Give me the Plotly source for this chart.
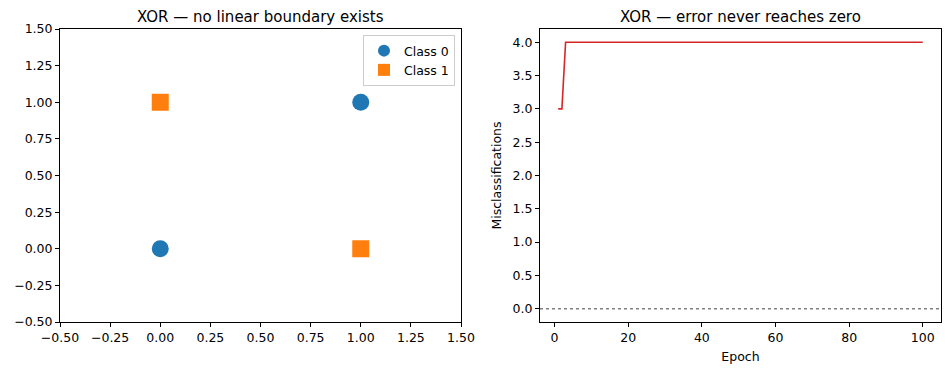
import plotly.graph_objects as go

# Data
class0_x = [0, 1]
class0_y = [0, 1]
class1_x = [0, 1]
class1_y = [1, 0]
epochs = list(range(1, 101))
errors = [3, 3] + [4] * 98
left_ticks = [-0.5, -0.25, 0.0, 0.25, 0.5, 0.75, 1.0, 1.25, 1.5]
left_ticklabels = ["−0.50", "−0.25", "0.00", "0.25", "0.50", "0.75", "1.00", "1.25", "1.50"]
right_yticks = [0.0, 0.5, 1.0, 1.5, 2.0, 2.5, 3.0, 3.5, 4.0]
right_yticklabels = ["0.0", "0.5", "1.0", "1.5", "2.0", "2.5", "3.0", "3.5", "4.0"]
right_xticks = [0, 20, 40, 60, 80, 100]

FONT = "DejaVu Sans"
fig = go.Figure()

fig.add_trace(go.Scatter(x=class0_x, y=class0_y, mode="markers", name="Class 0",
                         marker=dict(symbol="circle", size=17, color="#1f77b4", line=dict(width=0)),
                         xaxis="x", yaxis="y"))
fig.add_trace(go.Scatter(x=class1_x, y=class1_y, mode="markers", name="Class 1",
                         marker=dict(symbol="square", size=17, color="#ff7f0e", line=dict(width=0)),
                         xaxis="x", yaxis="y"))
fig.add_trace(go.Scatter(x=epochs, y=errors, mode="lines", showlegend=False,
                         line=dict(color="#d62728", width=1.6), xaxis="x2", yaxis="y2"))
fig.add_trace(go.Scatter(x=[-3.95, 104.95], y=[0, 0], mode="lines", showlegend=False,
                         line=dict(color="gray", width=1.4, dash="dot"), xaxis="x2", yaxis="y2"))

ax_common = dict(showline=True, linecolor="black", linewidth=1, mirror=True, showgrid=False,
                 zeroline=False, ticks="outside", ticklen=4, tickcolor="black", tickwidth=1,
                 automargin=False,
                 tickfont=dict(family=FONT, size=12.5, color="black"))

ydom = [1 - 322 / 374, 1 - 29 / 374]
fig.update_layout(
    width=950, height=374,
    margin=dict(l=0, r=0, t=0, b=0, autoexpand=False),
    paper_bgcolor="white", plot_bgcolor="white",
    font=dict(family=FONT, size=12.5, color="black"),
    xaxis=dict(domain=[60 / 950, 461 / 950], range=[-0.5, 1.5], tickvals=left_ticks,
               ticktext=left_ticklabels, anchor="y", **ax_common),
    yaxis=dict(domain=ydom, range=[-0.5, 1.5], tickvals=left_ticks,
               ticktext=left_ticklabels, anchor="x", **ax_common),
    xaxis2=dict(domain=[540 / 950, 941 / 950], range=[-3.95, 104.95], tickvals=right_xticks,
                anchor="y2", title=dict(text="Epoch", font=dict(family=FONT, size=12.5), standoff=8),
                **ax_common),
    yaxis2=dict(domain=ydom, range=[-0.2, 4.2], tickvals=right_yticks, ticktext=right_yticklabels,
                anchor="x2", title=dict(text="Misclassifications", font=dict(family=FONT, size=12.5), standoff=8),
                **ax_common),
    legend=dict(x=455 / 950, y=1 - 35 / 374, xanchor="right", yanchor="top",
                bgcolor="rgba(255,255,255,0.8)", bordercolor="#cccccc", borderwidth=1,
                font=dict(family=FONT, size=12.5), itemsizing="constant", tracegroupgap=0),
    annotations=[
        dict(text="XOR — no linear boundary exists", x=(60 + 461) / 2 / 950, y=1 - 17 / 374,
             xref="paper", yref="paper", showarrow=False, xanchor="center", yanchor="middle",
             font=dict(family=FONT, size=15, color="black")),
        dict(text="XOR — error never reaches zero", x=(540 + 941) / 2 / 950, y=1 - 17 / 374,
             xref="paper", yref="paper", showarrow=False, xanchor="center", yanchor="middle",
             font=dict(family=FONT, size=15, color="black")),
    ],
)

fig.write_html("out.html", config={"displayModeBar": False},
               post_script="document.body.style.margin='0px';")
